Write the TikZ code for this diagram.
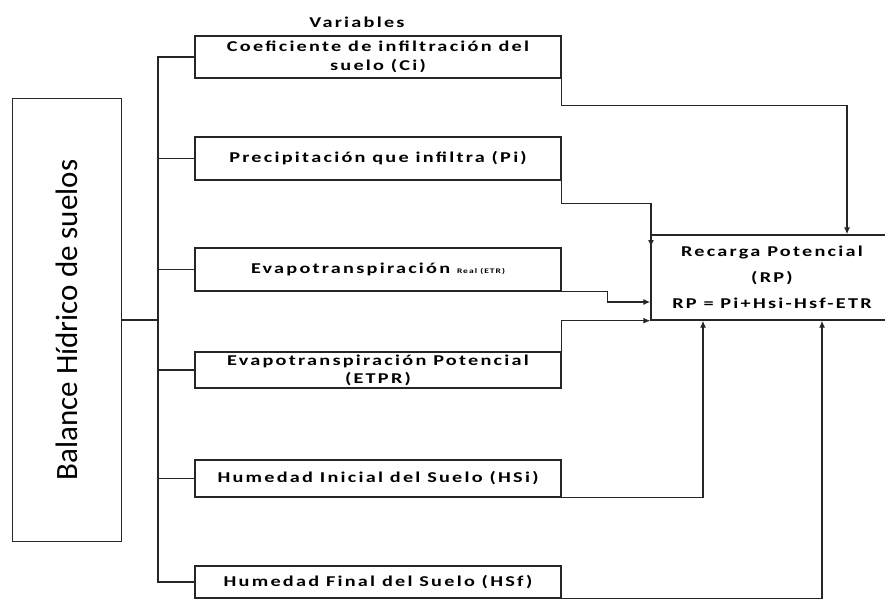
\documentclass[tikz,border=0pt]{standalone}
\usepackage{fontspec}
\setmainfont{Carlito}
\newfontfamily\varfont[FakeStretch=1.35,LetterSpace=15]{Carlito}
\usetikzlibrary{arrows.meta, positioning}
\tikzset{
  var/.style={draw,rectangle,minimum width=366pt,inner sep=0pt,align=center,
    font=\varfont\bfseries\fontsize{15}{19}\selectfont},
  link/.style={-{Latex[length=7pt,width=6pt]}}
}

\begin{document}
\begin{tikzpicture}[x=1pt,y=-1pt,line width=1.3pt,draw=black!85]
	  \useasboundingbox (0,0) rectangle (885,600);
	  \node at (67,320) (bal) [draw,rectangle,rotate=90,minimum width=443pt,minimum height=109pt,font=\fontsize{31}{33}\selectfont]{Balance Hídrico de suelos};
	  \node at (357,22) (var) [font=\varfont\bfseries\fontsize{15}{17}\selectfont]{Variables};
	  \node at (378,57) (ci) [var,minimum height=42pt]{Coeficiente de infiltración del\\suelo (Ci)};
	  \node at (378,158.5) (pi) [var,minimum height=43pt]{Precipitación que infiltra (Pi)};
	  \node at (378,269.5) (etr) [var,minimum height=43pt]{Evapotranspiración {\fontsize{7}{8}\selectfont Real (ETR)}};
	  \node at (378,370) (etpr) [var,minimum height=36pt,font=\varfont\bfseries\fontsize{15}{18}\selectfont]{Evapotranspiración Potencial\\(ETPR)};
	  \node at (378,478.5) (hsi) [var,minimum height=37pt]{Humedad Inicial del Suelo (HSi)};
	  \node at (378,582) (hsf) [var,minimum height=32pt]{Humedad Final del Suelo (HSf)};
	  \node at (772,277.5) (rp) [draw,rectangle,minimum width=242pt,minimum height=85pt,align=center,font=\varfont\bfseries\fontsize{15}{26}\selectfont]{Recarga Potencial\\(RP)\\RP = Pi+Hsi-Hsf-ETR};
	  \coordinate (trunk) at (158,0);
	  \coordinate (pin) at (651,247);
	  \draw (bal.south) -- (bal.south -| trunk);
	  \draw (ci.west) -| (trunk |- hsf.west) -- (hsf.west);
	  \draw (pi.west) -- (pi.west -| trunk);
	  \draw (etr.west) -- (etr.west -| trunk);
	  \draw (etpr.west) -- (etpr.west -| trunk);
	  \draw (hsi.west) -- (hsi.west -| trunk);
	  \draw[link](ci.south east) -- ++(0,27) -| (rp.north -| 847,0);
	  \draw[link](pi.south east) -- ++(0,23) -| (pin);
	  \draw[link](etr.south east) -- ++(46,0) |- (rp.west |- 0,302);
	  \draw[link](etpr.north east) |- (rp.south west);
	  \draw[link](hsi.south east) -| (rp.south -| 703,0);
	  \draw[link](hsf.south east) -| (rp.south -| 822,0);
	\end{tikzpicture}
\end{document}
